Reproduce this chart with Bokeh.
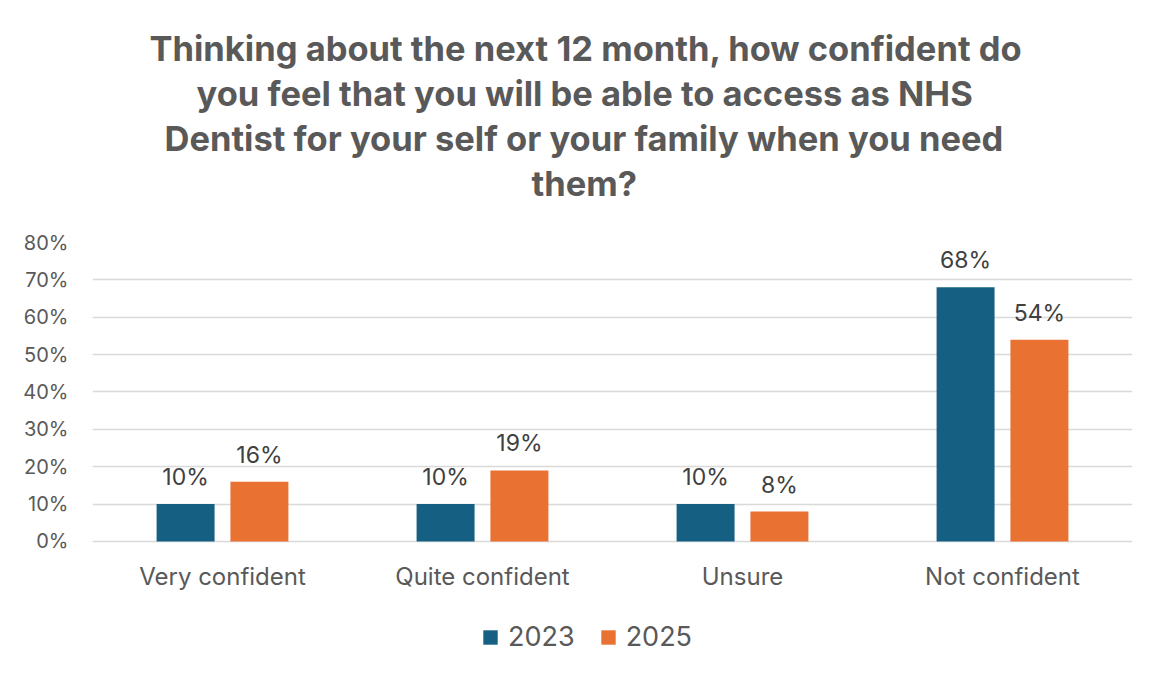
from bokeh.plotting import figure
from bokeh.models import ColumnDataSource, Title, Legend, LegendItem, NumeralTickFormatter, FixedTicker, LabelSet, Range1d
from bokeh.core.properties import value
from bokeh.transform import dodge
from bokeh.embed import file_html
from bokeh.resources import INLINE

categories = ["Very confident", "Quite confident", "Unsure", "Not confident"]
values_2023 = [0.10, 0.10, 0.10, 0.68]
values_2025 = [0.16, 0.19, 0.08, 0.54]
labels_2023 = ["10%", "10%", "10%", "68%"]
labels_2025 = ["16%", "19%", "8%", "54%"]
series_names = ["2023", "2025"]
y_ticks = [0, 0.1, 0.2, 0.3, 0.4, 0.5, 0.6, 0.7, 0.8]
title_lines = [
    "Thinking about the next 12 month, how confident do",
    "you feel that you will be able to access as NHS",
    "Dentist for your self or your family when you need",
    "them?",
]
# horizontal offsets (px from frame left) so that each title line is centred on the chart area
title_offsets = [57, 104, 72, 439]

C2023 = "#156082"
C2025 = "#E97132"
FONT = "Inter"
GREY = "#595959"

src = ColumnDataSource(dict(cat=categories, v23=values_2023, v25=values_2025,
                            l23=labels_2023, l25=labels_2025))

# frame extends below 0 so that category labels and legend sit inside it
p = figure(x_range=categories, y_range=Range1d(-0.332, 0.8), frame_width=1040, frame_height=423,
           output_backend="svg", toolbar_location=None, title=None, x_axis_location=None,
           min_border_left=92, min_border_right=17, min_border_top=0, min_border_bottom=0)

r23 = p.vbar(x=dodge("cat", -0.142, range=p.x_range), top="v23", width=0.223, source=src,
             fill_color=C2023, line_color=None)
r25 = p.vbar(x=dodge("cat", 0.142, range=p.x_range), top="v25", width=0.223, source=src,
             fill_color=C2025, line_color=None)

for xo, col in [(-0.142, "l23"), (0.142, "l25")]:
    ls = LabelSet(x=dodge("cat", xo, range=p.x_range), y="v" + col[1:], text=col, source=src,
                  text_align="center", text_baseline="alphabetic", y_offset=19,
                  text_font=value(FONT), text_font_size="23px", text_color="#404040")
    p.add_layout(ls)

# category labels under the baseline
p.add_layout(LabelSet(x="cat", y=0, text="cat", source=src, text_align="center",
                      text_baseline="middle", y_offset=-35, text_font=value(FONT),
                      text_font_size="24px", text_color=GREY))

# titles (added bottom-up), with spacers
p.add_layout(Title(text=" ", text_font_size="1px", standoff=35), "above")
for line, off in reversed(list(zip(title_lines, title_offsets))):
    t = Title(text=line, align="left", offset=off, text_font=FONT, text_font_size="34.5px",
              text_font_style="bold", text_color=GREY, standoff=2)
    p.add_layout(t, "above")
p.add_layout(Title(text=" ", text_font_size="1px", standoff=21), "above")

p.yaxis.ticker = FixedTicker(ticks=y_ticks)
p.yaxis.formatter = NumeralTickFormatter(format="0%")
p.yaxis.axis_line_color = None
p.yaxis.major_tick_line_color = None
p.yaxis.minor_tick_line_color = None
p.yaxis.major_label_text_font = FONT
p.yaxis.major_label_text_font_size = "20px"
p.yaxis.major_label_text_color = GREY
p.yaxis.major_label_standoff = 18

p.xgrid.grid_line_color = None
p.ygrid.grid_line_color = "#d9d9d9"
p.ygrid.grid_line_width = 1.5
p.outline_line_color = None

legend = Legend(items=[LegendItem(label=series_names[0], renderers=[r23]),
                       LegendItem(label=series_names[1], renderers=[r25])],
                orientation="horizontal", location=(389, 12),
                label_text_font=FONT, label_text_font_size="27px", label_text_color=GREY,
                glyph_width=18, glyph_height=18, spacing=24, label_standoff=9,
                border_line_color=None, background_fill_alpha=0, margin=0, padding=0)
p.add_layout(legend, "center")

open("out.html", "w").write(file_html(p, INLINE))
